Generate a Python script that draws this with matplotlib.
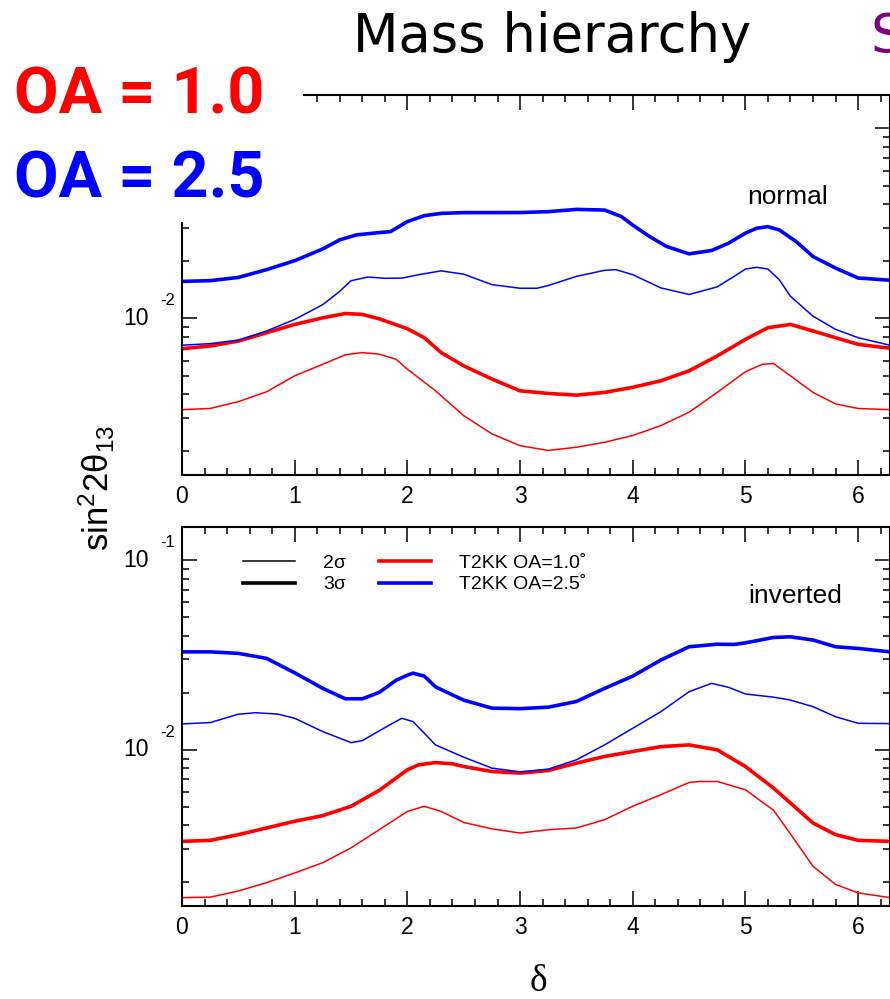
import numpy as np
import matplotlib.pyplot as plt
from matplotlib.lines import Line2D
from matplotlib.patches import Rectangle
from matplotlib.ticker import MultipleLocator, LogLocator, NullFormatter
from matplotlib.transforms import offset_copy

plt.rcParams['font.family'] = 'Liberation Sans'
plt.rcParams['mathtext.fontset'] = 'custom'
plt.rcParams['mathtext.rm'] = 'Liberation Sans'
plt.rcParams['mathtext.it'] = 'Liberation Sans:italic'
plt.rcParams['mathtext.bf'] = 'Liberation Sans:bold'

TWO_PI = 2 * np.pi

# ---- normal hierarchy: sin^2 2theta13 reach vs delta ----
n_oa10_2sig_d = [0, 0.25, 0.5, 0.75, 1.0, 1.25, 1.45, 1.6, 1.75, 1.9, 2.0, 2.25, 2.5, 2.75, 3.0,
                 3.25, 3.5, 3.75, 4.0, 4.25, 4.5, 4.75, 5.0, 5.15, 5.25, 5.4, 5.6, 5.8, 6.0, TWO_PI]
n_oa10_2sig = [0.00331, 0.00336, 0.00365, 0.00411, 0.00499, 0.00574, 0.00644, 0.00661, 0.00649,
               0.00610, 0.00541, 0.00416, 0.00308, 0.00247, 0.00214, 0.00202, 0.00210, 0.00223,
               0.00242, 0.00273, 0.00321, 0.00408, 0.00524, 0.00574, 0.00579, 0.00499, 0.00408,
               0.00355, 0.00336, 0.00331]

n_oa10_3sig_d = [0, 0.25, 0.5, 0.75, 1.0, 1.25, 1.45, 1.6, 1.75, 2.0, 2.15, 2.3, 2.5, 2.75, 3.0,
                 3.25, 3.5, 3.75, 4.0, 4.25, 4.5, 4.75, 5.0, 5.2, 5.4, 5.6, 5.8, 6.0, TWO_PI]
n_oa10_3sig = [0.00693, 0.00716, 0.00760, 0.00841, 0.00930, 0.01008, 0.01062, 0.01050, 0.00996,
               0.00883, 0.00792, 0.00661, 0.00563, 0.00480, 0.00416, 0.00403, 0.00395, 0.00408,
               0.00434, 0.00470, 0.00530, 0.00635, 0.00776, 0.00894, 0.00930, 0.00859, 0.00792,
               0.00731, 0.00697]

n_oa25_2sig_d = [0, 0.25, 0.5, 0.75, 1.0, 1.25, 1.4, 1.5, 1.65, 1.8, 1.95, 2.1, 2.3, 2.5, 2.75,
                 3.0, 3.15, 3.25, 3.5, 3.75, 3.85, 4.0, 4.25, 4.5, 4.75, 4.9, 5.0, 5.1, 5.2, 5.3,
                 5.4, 5.5, 5.6, 5.8, 6.0, TWO_PI]
n_oa25_2sig = [0.00723, 0.00737, 0.00769, 0.00859, 0.00988, 0.01183, 0.01390, 0.01580, 0.01652,
               0.01627, 0.01630, 0.01700, 0.01780, 0.01710, 0.01507, 0.01442, 0.01442, 0.01490,
               0.01665, 0.01792, 0.01807, 0.01700, 0.01448, 0.01337, 0.01466, 0.01665, 0.01820,
               0.01858, 0.01820, 0.01600, 0.01309, 0.01159, 0.01028, 0.00876, 0.00792, 0.00723]

n_oa25_3sig_d = [0, 0.25, 0.5, 0.75, 1.0, 1.25, 1.4, 1.55, 1.75, 1.85, 2.0, 2.15, 2.3, 2.5, 3.0,
                 3.25, 3.5, 3.75, 3.9, 4.0, 4.15, 4.3, 4.5, 4.7, 4.85, 5.0, 5.1, 5.2, 5.3, 5.45,
                 5.6, 5.8, 6.0, TWO_PI]
n_oa25_3sig = [0.01567, 0.01581, 0.01644, 0.01807, 0.02014, 0.02323, 0.02594, 0.02754, 0.02831,
               0.02864, 0.03236, 0.03475, 0.03573, 0.03606, 0.03610, 0.03648, 0.03750, 0.03720,
               0.03436, 0.03100, 0.02698, 0.02393, 0.02188, 0.02279, 0.02489, 0.02812, 0.02985,
               0.03041, 0.02924, 0.02541, 0.02118, 0.01841, 0.01633, 0.01589]

# ---- inverted hierarchy ----
i_oa10_2sig_d = [0, 0.25, 0.5, 0.75, 1.0, 1.25, 1.5, 1.75, 2.0, 2.15, 2.3, 2.5, 2.75, 3.0, 3.25,
                 3.5, 3.75, 4.0, 4.25, 4.5, 4.6, 4.75, 5.0, 5.25, 5.4, 5.6, 5.8, 6.0, TWO_PI]
i_oa10_2sig = [0.00166, 0.00167, 0.00180, 0.00199, 0.00224, 0.00254, 0.00304, 0.00379, 0.00473,
               0.00504, 0.00473, 0.00414, 0.00383, 0.00364, 0.00379, 0.00387, 0.00428, 0.00504,
               0.00580, 0.00673, 0.00681, 0.00681, 0.00616, 0.00480, 0.00360, 0.00243, 0.00195,
               0.00176, 0.00166]

i_oa10_3sig_d = [0, 0.25, 0.5, 0.75, 1.0, 1.25, 1.5, 1.75, 2.0, 2.1, 2.25, 2.4, 2.5, 2.75, 3.0,
                 3.25, 3.5, 3.75, 4.0, 4.25, 4.5, 4.75, 5.0, 5.25, 5.4, 5.6, 5.8, 6.0, TWO_PI]
i_oa10_3sig = [0.00329, 0.00333, 0.00357, 0.00387, 0.00420, 0.00450, 0.00504, 0.00611, 0.00785,
               0.00834, 0.00857, 0.00844, 0.00817, 0.00769, 0.00754, 0.00778, 0.00851, 0.00923,
               0.00980, 0.01040, 0.01062, 0.01000, 0.00817, 0.00628, 0.00524, 0.00411, 0.00357,
               0.00333, 0.00329]

i_oa25_2sig_d = [0, 0.25, 0.5, 0.65, 0.85, 1.0, 1.25, 1.5, 1.6, 1.75, 1.95, 2.05, 2.15, 2.25,
                 2.5, 2.75, 3.0, 3.25, 3.5, 3.75, 4.0, 4.25, 4.5, 4.7, 4.85, 5.0, 5.25, 5.4, 5.6,
                 5.8, 6.0, TWO_PI]
i_oa25_2sig = [0.01371, 0.01393, 0.01542, 0.01570, 0.01545, 0.01468, 0.01248, 0.01092, 0.01119,
               0.01260, 0.01468, 0.01410, 0.01225, 0.01062, 0.00915, 0.00801, 0.00766, 0.00791,
               0.00886, 0.01062, 0.01300, 0.01591, 0.02028, 0.02244, 0.02138, 0.01972, 0.01897,
               0.01832, 0.01690, 0.01496, 0.01381, 0.01376]

i_oa25_3sig_d = [0, 0.25, 0.5, 0.75, 1.0, 1.25, 1.45, 1.6, 1.75, 1.9, 2.0, 2.05, 2.15, 2.25, 2.4,
                 2.5, 2.75, 3.0, 3.25, 3.5, 3.75, 4.0, 4.25, 4.5, 4.75, 4.9, 5.0, 5.25, 5.4, 5.6,
                 5.8, 6.0, TWO_PI]
i_oa25_3sig = [0.0329, 0.0329, 0.0323, 0.0304, 0.0255, 0.0211, 0.0186, 0.0186, 0.0201, 0.0233,
               0.0248, 0.0254, 0.0245, 0.0215, 0.0195, 0.0183, 0.0166, 0.0165, 0.0168, 0.0180,
               0.0211, 0.0245, 0.0298, 0.0350, 0.0361, 0.0360, 0.0367, 0.0392, 0.0395, 0.0380,
               0.0350, 0.0343, 0.0329]

decades = [1e-2, 1e-1]
decade_exponents = ['-2', '-1']
x_ticks = [0, 1, 2, 3, 4, 5, 6]

RED = '#ff0000'
BLUE = '#0000ff'
THIN = 1.1
THICK = 2.6

W, H = 890, 999
fig = plt.figure(figsize=(W / 100, H / 100), dpi=100)
fig.patch.set_facecolor('white')

ax_n = fig.add_axes([182 / W, 1 - 475 / H, (W - 182) / W, 380 / H])
ax_i = fig.add_axes([182 / W, 1 - 906 / H, (W - 182) / W, 379 / H])


def style_panel(ax, n_labels):
    ax.set_yscale('log')
    ax.set_xlim(0, TWO_PI)
    ax.set_ylim(1.5e-3, 0.15)
    ax.set_xticks(x_ticks)
    ax.xaxis.set_minor_locator(MultipleLocator(0.2))
    ax.yaxis.set_major_locator(LogLocator(base=10))
    ax.yaxis.set_minor_locator(LogLocator(base=10, subs=np.arange(2, 10)))
    ax.yaxis.set_major_formatter(NullFormatter())
    ax.yaxis.set_minor_formatter(NullFormatter())
    ax.tick_params(which='both', direction='in', top=True, right=True, width=1.1, color='black')
    ax.tick_params(which='major', length=10.8, labelsize=16.5, pad=7)
    ax.tick_params(which='minor', length=5)
    for spine in ax.spines.values():
        spine.set_linewidth(1.5)

    # "10" with the exponent set high and to the right
    base_tr = offset_copy(ax.get_yaxis_transform(), fig=fig, x=-23.8, y=0, units='points')
    exp_tr = offset_copy(ax.get_yaxis_transform(), fig=fig, x=-15.8, y=9.4, units='points')
    for val, ex in list(zip(decades, decade_exponents))[:n_labels]:
        ax.text(0, val, '10', transform=base_tr, ha='right', va='center', fontsize=16.5)
        ax.text(0, val, ex, transform=exp_tr, ha='left', va='baseline', fontsize=12)


# the upper decade label of the top panel sits under the OA panel, so only 10^-2 there
style_panel(ax_n, 1)
style_panel(ax_i, 2)

# normal hierarchy
ax_n.plot(n_oa10_2sig_d, n_oa10_2sig, color=RED, lw=THIN)
ax_n.plot(n_oa10_3sig_d, n_oa10_3sig, color=RED, lw=THICK)
ax_n.plot(n_oa25_2sig_d, n_oa25_2sig, color=BLUE, lw=THIN)
ax_n.plot(n_oa25_3sig_d, n_oa25_3sig, color=BLUE, lw=THICK)
ax_n.text(0.856, 0.732, 'normal', transform=ax_n.transAxes, ha='center', va='center', fontsize=19)

# inverted hierarchy
ax_i.plot(i_oa10_2sig_d, i_oa10_2sig, color=RED, lw=THIN)
ax_i.plot(i_oa10_3sig_d, i_oa10_3sig, color=RED, lw=THICK)
ax_i.plot(i_oa25_2sig_d, i_oa25_2sig, color=BLUE, lw=THIN)
ax_i.plot(i_oa25_3sig_d, i_oa25_3sig, color=BLUE, lw=THICK)
ax_i.text(0.866, 0.818, 'inverted', transform=ax_i.transAxes, ha='center', va='center', fontsize=19)

handles = [
    Line2D([0], [0], color='black', lw=THIN, label='2σ'),
    Line2D([0], [0], color='black', lw=THICK, label='3σ'),
    Line2D([0], [0], color=RED, lw=THICK, label='T2KK OA=1.0˚'),
    Line2D([0], [0], color=BLUE, lw=THICK, label='T2KK OA=2.5˚'),
]
ax_i.legend(handles=handles, ncol=2, loc='upper left', bbox_to_anchor=(0.086, 0.928),
            frameon=False, fontsize=14, handlelength=2.68, handletextpad=1.44,
            columnspacing=1.7, labelspacing=0.2, borderpad=0, borderaxespad=0)

# axis labels
fig.text(97 / W, 1 - 488 / H, r'sin$^\mathrm{2}$2$\mathrm{\theta}_\mathrm{13}$', rotation=90,
         ha='center', va='center', fontsize=25)
fig.text(538 / W, 1 - 982 / H, 'δ', family='Liberation Serif', ha='center', va='center', fontsize=27)

# white panel behind the OA labels
fig.add_artist(Rectangle((0, 1 - 222 / H), 303 / W, 222 / H, transform=fig.transFigure,
                         facecolor='white', edgecolor='none', zorder=3))

fig.text(552 / W, 1 - 52 / H, 'Mass hierarchy', family='DejaVu Sans', ha='center', va='baseline',
         fontsize=38, zorder=4)
fig.text(870 / W, 1 - 52 / H, 'S', family='DejaVu Sans', color='#800080', ha='left', va='baseline',
         fontsize=38, zorder=4)
fig.text(14 / W, 1 - 113 / H, 'OA = 1.0', family='Roboto', fontweight='bold', color=RED,
         ha='left', va='baseline', fontsize=46.5, zorder=4)
fig.text(14 / W, 1 - 197 / H, 'OA = 2.5', family='Roboto', fontweight='bold', color=BLUE,
         ha='left', va='baseline', fontsize=46.5, zorder=4)

fig.savefig('out.png', dpi=100, facecolor='white')
